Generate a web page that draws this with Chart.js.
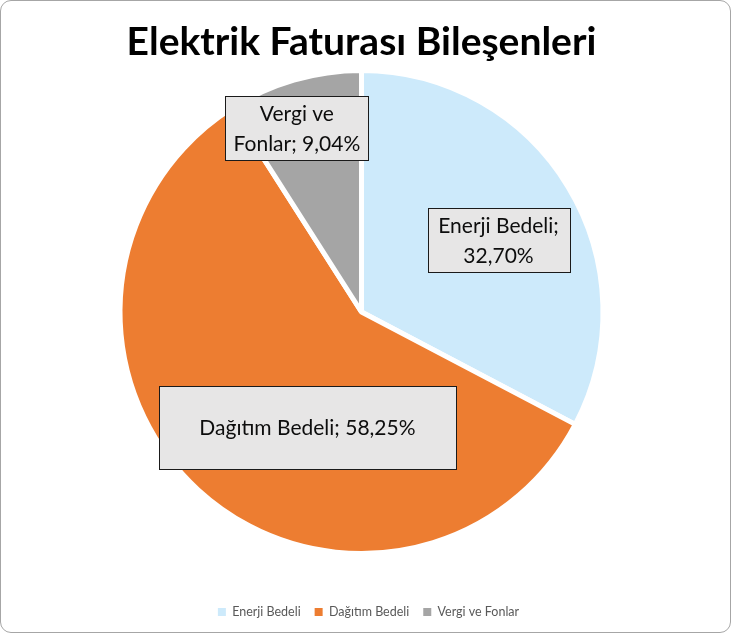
<!DOCTYPE html>
<html>
<head>
<meta charset="utf-8">
<script src="https://cdn.jsdelivr.net/npm/chart.js@4.4.1/dist/chart.umd.min.js"></script>
<style>
  html, body { margin: 0; padding: 0; background: #fff; }
  #wrap {
    position: relative; width: 731px; height: 633px; box-sizing: border-box;
    border: 1px solid #a6a6a6; border-radius: 11px; overflow: hidden;
  }
  canvas { display: block; }
</style>
</head>
<body>
<div id="wrap"><canvas id="chart" width="729" height="631"></canvas></div>
<script>
var chartTitle = 'Elektrik Faturası Bileşenleri';
var categories = ['Enerji Bedeli', 'Dağıtım Bedeli', 'Vergi ve Fonlar'];
var shares = [32.70, 58.25, 9.04];
var sliceColors = ['#cdeafb', '#ed7d31', '#a5a5a5'];

// label box layout: offset from slice centroid (0.6 r), box size
var labelLayout = [
    { dx: 13, dy: 3, w: 142, h: 64 },
    { dx: 44, dy: 9, w: 297, h: 83 },
    { dx: -24, dy: -45, w: 143, h: 64 }
];
// how each label is split into lines
var labelLines = [
    ['Enerji Bedeli;', '32,70%'],
    ['Dağıtım Bedeli; 58,25%'],
    ['Vergi ve', 'Fonlar; 9,04%']
];

var FONT = 'Lato, "Open Sans", sans-serif';

var labelBoxes = {
    id: 'labelBoxes',
    afterDatasetsDraw: function(chart) {
        var ctx = chart.ctx;
        var meta = chart.getDatasetMeta(0);
        meta.data.forEach(function(arc, i) {
            var p = arc.getProps(['x', 'y', 'startAngle', 'endAngle', 'outerRadius']);
            var mid = (p.startAngle + p.endAngle) / 2;
            var r = p.outerRadius * 0.6;
            var lay = labelLayout[i];
            var cx = p.x + Math.cos(mid) * r + lay.dx;
            var cy = p.y + Math.sin(mid) * r + lay.dy;
            var x0 = Math.round(cx - lay.w / 2) + 0.5;
            var y0 = Math.round(cy - lay.h / 2) + 0.5;
            ctx.save();
            ctx.fillStyle = '#e7e6e6';
            ctx.strokeStyle = '#1a1a1a';
            ctx.lineWidth = 1;
            ctx.fillRect(x0, y0, lay.w, lay.h);
            ctx.strokeRect(x0, y0, lay.w, lay.h);
            ctx.fillStyle = '#0d0d0d';
            ctx.font = '21px ' + FONT;
            ctx.textAlign = 'center';
            ctx.textBaseline = 'middle';
            var lines = labelLines[i];
            var step = 30;
            var start = cy - (lines.length - 1) * step / 2 + 1;
            lines.forEach(function(t, k) {
                ctx.fillText(t, cx, start + k * step);
            });
            ctx.restore();
        });
    }
};

// nudge the legend a little right, as in the original
var legendShift = {
    id: 'legendShift',
    afterLayout: function(chart) {
        chart.legend.left += 7;
        chart.legend.right += 7;
    }
};

new Chart(document.getElementById('chart'), {
    type: 'pie',
    data: {
        labels: categories,
        datasets: [{
            data: shares,
            backgroundColor: sliceColors,
            borderColor: '#ffffff',
            borderWidth: 5
        }]
    },
    options: {
        responsive: false,
        animation: false,
        layout: { padding: { left: 0, right: 8, top: 0, bottom: 3.75 } },
        plugins: {
            title: {
                display: true,
                text: chartTitle,
                color: '#000000',
                font: { family: FONT, size: 39, weight: 'bold' },
                padding: { top: 17.6, bottom: 2.6 }
            },
            legend: {
                position: 'bottom',
                title: {
                    display: true,
                    text: ' ',
                    font: { size: 12 },
                    padding: { top: 21.35, bottom: 0 }
                },
                labels: {
                    color: '#595959',
                    font: { family: FONT, size: 12.5 },
                    boxWidth: 8,
                    boxHeight: 8,
                    padding: 14,
                    generateLabels: function(chart) {
                        var items = Chart.overrides.pie.plugins.legend.labels.generateLabels(chart);
                        items.forEach(function(it) { it.lineWidth = 0; it.strokeStyle = 'rgba(0,0,0,0)'; });
                        return items;
                    }
                }
            },
            tooltip: { enabled: false }
        }
    },
    plugins: [labelBoxes, legendShift]
});
</script>
</body>
</html>
